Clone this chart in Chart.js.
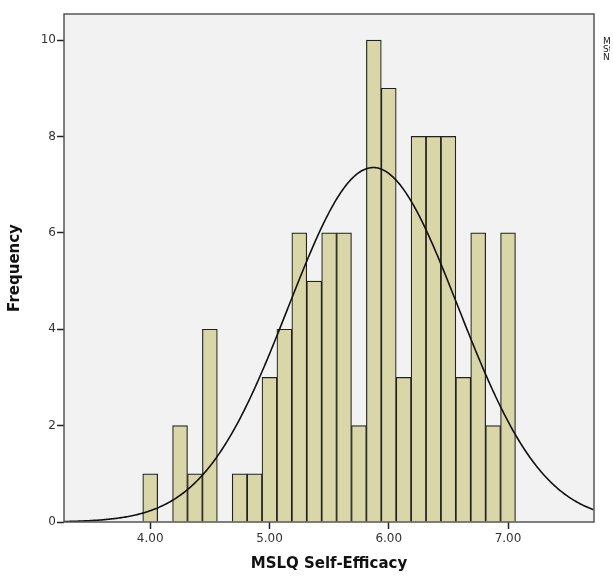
<!DOCTYPE html>
<html>
<head>
<meta charset="utf-8">
<script src="https://cdn.jsdelivr.net/npm/chart.js@4/dist/chart.umd.min.js"></script>
<style>
  html, body { margin: 0; padding: 0; background: #ffffff; overflow: hidden; }
  #wrap { position: relative; width: 613px; height: 582px; }
  #stats { position: absolute; left: 603px; top: 37px; width: 7px; overflow: hidden; font: 9px "DejaVu Sans", sans-serif; color: #222; line-height: 8px; white-space: nowrap; }
</style>
</head>
<body>
<div id="wrap">
  <canvas id="c" width="613" height="582"></canvas>
  <div id="stats">Mean = 5.87<br>Std. Dev. = 0.712<br>N = 105</div>
</div>
<script>
// Bin centres (MSLQ Self-Efficacy scores) and frequencies
const binCenters = [4.000, 4.125, 4.250, 4.375, 4.500, 4.625, 4.750, 4.875, 5.000, 5.125,
                    5.250, 5.375, 5.500, 5.625, 5.750, 5.875, 6.000, 6.125, 6.250, 6.375,
                    6.500, 6.625, 6.750, 6.875, 7.000];
const frequencies = [1, 0, 2, 1, 4, 0, 1, 1, 3, 4,
                     6, 5, 6, 6, 2, 10, 9, 3, 8, 8,
                     8, 3, 6, 2, 6];
const xTickValues = [4, 5, 6, 7];
const yTickValues = [0, 2, 4, 6, 8, 10];
// Fitted normal curve parameters
const meanValue = 5.87;
const stdDev = 0.712;
const nValue = 105;
const binWidth = 0.125;

const xMin = 3.277, xMax = 7.721, yMax = 10.54;

const curve = [];
for (let x = xMin; x <= xMax + 1e-9; x += 0.01) {
  const z = (x - meanValue) / stdDev;
  curve.push({ x: x, y: nValue * binWidth * Math.exp(-0.5 * z * z) / (stdDev * Math.sqrt(2 * Math.PI)) });
}

const bgPlugin = {
  id: 'bgframe',
  beforeDraw(chart) {
    const { ctx, chartArea: a } = chart;
    ctx.save();
    ctx.fillStyle = '#f2f2f2';
    ctx.fillRect(a.left, a.top, a.right - a.left, a.bottom - a.top);
    ctx.restore();
  },
  afterDraw(chart) {
    const { ctx, chartArea: a } = chart;
    ctx.save();
    ctx.strokeStyle = '#555555';
    ctx.lineWidth = 1.5;
    ctx.strokeRect(a.left, a.top, a.right - a.left, a.bottom - a.top);
    ctx.restore();
  }
};

new Chart(document.getElementById('c'), {
  data: {
    datasets: [
      {
        type: 'line',
        data: curve,
        borderColor: '#111111',
        borderWidth: 1.6,
        pointRadius: 0,
        fill: false,
        tension: 0,
        order: 0
      },
      {
        type: 'bar',
        data: binCenters.map((x, i) => ({ x: x, y: frequencies[i] })),
        backgroundColor: '#d9d6a7',
        borderColor: '#222222',
        borderWidth: 1.2,
        barPercentage: 1.0,
        categoryPercentage: 1.0,
        order: 1
      }
    ]
  },
  options: {
    responsive: false,
    animation: false,
    layout: { padding: { top: 14, right: 19, left: 0, bottom: 0 } },
    plugins: { legend: { display: false }, tooltip: { enabled: false } },
    scales: {
      x: {
        type: 'linear',
        offset: false,
        min: xMin,
        max: xMax,
        afterBuildTicks(s) { s.ticks = xTickValues.map(v => ({ value: v })); },
        afterFit(s) { s.height = 60; },
        grid: { offset: false, drawOnChartArea: false, tickLength: 7, tickColor: '#222', tickWidth: 1.5, color: '#222' },
        border: { display: false },
        ticks: {
          color: '#333',
          font: { family: 'DejaVu Sans', size: 12 },
          padding: 3,
          maxRotation: 0,
          callback: v => Number(v).toFixed(2)
        },
        title: {
          display: true,
          text: 'MSLQ Self-Efficacy',
          color: '#111',
          font: { family: 'DejaVu Sans', size: 15, weight: 'bold' },
          padding: { top: 0, bottom: 9 }
        }
      },
      y: {
        type: 'linear',
        min: 0,
        max: yMax,
        afterBuildTicks(s) { s.ticks = yTickValues.map(v => ({ value: v })); },
        afterFit(s) { s.width = 64; },
        grid: { drawOnChartArea: false, tickLength: 7, tickColor: '#222', tickWidth: 1.5, color: '#222' },
        border: { display: false },
        ticks: {
          color: '#333',
          font: { family: 'DejaVu Sans', size: 12 },
          padding: 1
        },
        title: {
          display: true,
          text: 'Frequency',
          color: '#111',
          font: { family: 'DejaVu Sans', size: 15, weight: 'bold' },
          padding: { top: 6, bottom: 0 }
        }
      }
    }
  },
  plugins: [bgPlugin]
});
</script>
</body>
</html>
